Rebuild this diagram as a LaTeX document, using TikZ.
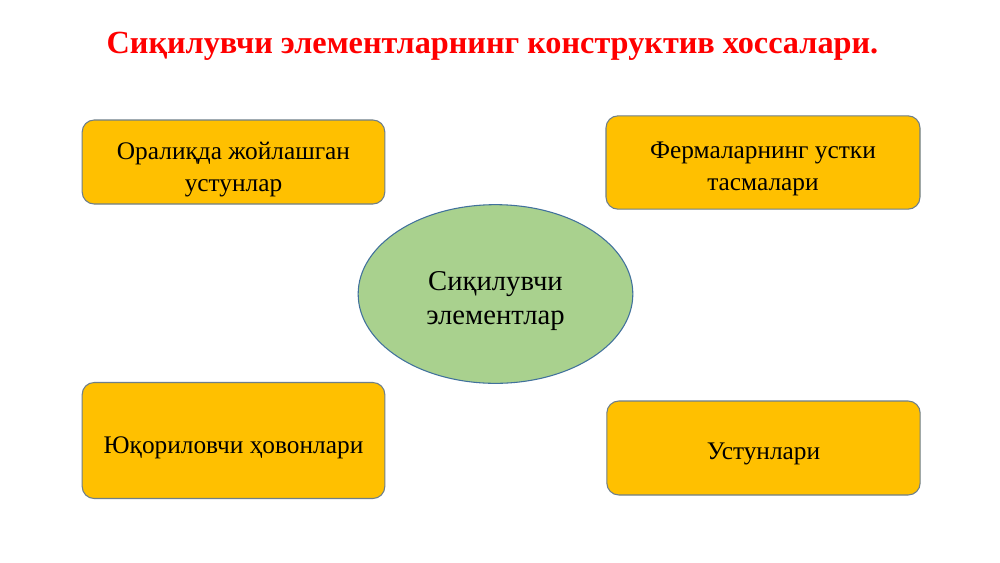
\documentclass[tikz,border=0pt]{standalone}
\usepackage{fontspec}
\setmainfont{Liberation Serif}
\usetikzlibrary{shapes.geometric}
\definecolor{boxfill}{HTML}{FFC000}
\definecolor{boxline}{HTML}{6E7F8A}
\definecolor{ellfill}{HTML}{A9D18E}
\definecolor{ellline}{HTML}{41719C}
\definecolor{titlered}{HTML}{FF0000}
\newcommand{\boxtext}[2]{\raisebox{#1}[\height][\depth]{\begin{tabular}{@{}c@{}}#2\end{tabular}}}
\tikzset{
  px/.style={x=0.75pt,y=-0.75pt},
  ybox/.style={draw=boxline, line width=0.8pt, fill=boxfill, rounded corners=9pt,
    minimum width=#1, align=center, font=\fontsize{19}{24}\selectfont, inner sep=0pt},
  cell/.style={draw=ellline, line width=0.8pt, fill=ellfill, ellipse,
    minimum width=206pt, minimum height=134pt, inner sep=0pt, align=center,
    font=\fontsize{21.5}{25.5}\selectfont}
}
\begin{document}
\begin{tikzpicture}[px]
\useasboundingbox (0,0) rectangle (1000,562);
\fill[white] (0,0) rectangle (1000,562);
\node[text=titlered, font=\fontsize{24.2}{28}\bfseries\selectfont] (title) at (492.5,46) {Сиқилувчи элементларнинг конструктив хоссалари.};
\node[ybox=227pt, minimum height=63pt] (tl) at (233.5,162) {\boxtext{-5pt}{Оралиқда жойлашган\\устунлар}};
\node[ybox=235.5pt, minimum height=70pt] (tr) at (763,162.5) {\boxtext{-4pt}{Фермаларнинг устки\\тасмалари}};
\node[ybox=227pt, minimum height=87pt] (bl) at (233.5,440.5) {\boxtext{-5pt}{Юқориловчи ҳовонлари}};
\node[ybox=235pt, minimum height=70.5pt] (br) at (763.5,448) {\boxtext{-4pt}{Устунлари}};
\node[cell] (c) at (495.5,294) {\boxtext{-5pt}{Сиқилувчи\\элементлар}};
\end{tikzpicture}
\end{document}
